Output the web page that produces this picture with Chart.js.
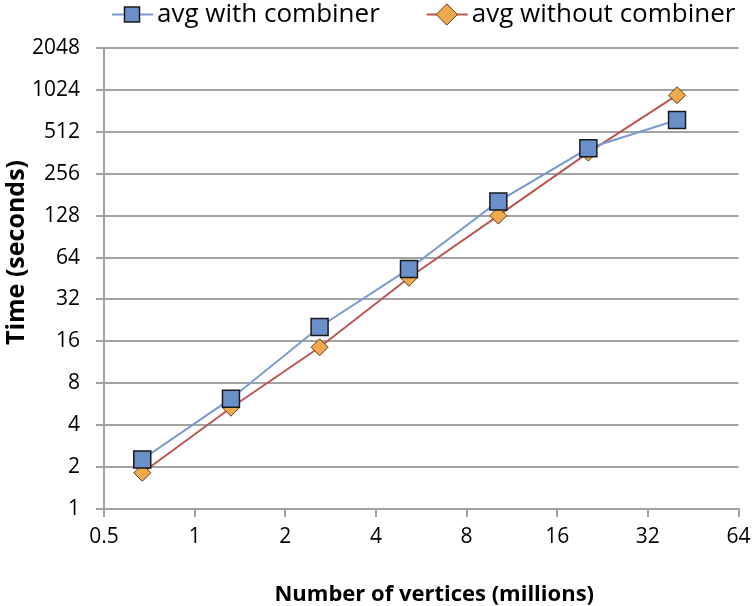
<!DOCTYPE html>
<html>
<head>
<meta charset="utf-8">
<script src="https://cdn.jsdelivr.net/npm/chart.js@4.4.1/dist/chart.umd.min.js"></script>
<style>
  html, body { margin: 0; padding: 0; background: #fff; }
  #wrap { width: 752px; height: 606px; }
</style>
</head>
<body>
<div id="wrap"><canvas id="chart" width="752" height="606"></canvas></div>
<script>
// vertices (millions) and times (seconds)
const vertices = [0.67, 1.32, 2.6, 5.15, 10.2, 20.3, 40];
const withCombiner = [2.27, 6.2, 20.3, 53, 162, 390, 622];
const withoutCombiner = [1.82, 5.34, 14.5, 45.8, 128, 363, 938];
const xTicks = [0.5, 1, 2, 4, 8, 16, 32, 64];
const yTicks = [1, 2, 4, 8, 16, 32, 64, 128, 256, 512, 1024, 2048];

const font = '"Open Sans", sans-serif';
const gridGrey = '#a3a3a3';

function toPoints(ys) {
  return vertices.map((v, i) => ({ x: v, y: ys[i] }));
}

// shift an axis title a little (the original titles are not centred on the plot)
function nudgeTitle(scale, dx, dy) {
  if (scale._nudged) return;
  const drawTitle = scale.drawTitle;
  scale.drawTitle = function () {
    this.ctx.save();
    this.ctx.translate(dx, dy);
    drawTitle.call(this);
    this.ctx.restore();
  };
  scale._nudged = true;
}

// legend placement like the original + a line through each marker
const tweaks = {
  id: 'tweaks',
  beforeInit(chart) {
    const legend = chart.legend;
    const fit = legend.fit;
    legend.fit = function () {
      this.maxWidth = 1200; // keep both items on one row
      fit.call(this);
      this.height = 101.5;
    };
  },
  afterLayout(chart) {
    chart.legend.left = 65;
    chart.legend.right = 1200;
    nudgeTitle(chart.scales.y, 0, -26);
    nudgeTitle(chart.scales.x, 13, 0);
  },
  afterDraw(chart) {
    const legend = chart.legend;
    if (!legend || !legend.legendHitBoxes) return;
    const ctx = chart.ctx;
    legend.legendHitBoxes.forEach((box, i) => {
      const ds = chart.data.datasets[i];
      const cy = box.top + 13;
      const cx = box.left + 12;
      ctx.save();
      ctx.globalCompositeOperation = 'destination-over';
      ctx.strokeStyle = ds.borderColor;
      ctx.lineWidth = 2;
      ctx.beginPath();
      ctx.moveTo(cx - 20, cy);
      ctx.lineTo(cx + 21, cy);
      ctx.stroke();
      ctx.restore();
    });
  }
};

new Chart(document.getElementById('chart'), {
  type: 'line',
  data: {
    datasets: [
      {
        label: 'avg with combiner',
        data: toPoints(withCombiner),
        borderColor: '#7b9bd0',
        borderWidth: 2,
        pointStyle: 'rect',
        pointRadius: 12,
        pointBackgroundColor: '#6b8fc9',
        pointBorderColor: '#1a1a1a',
        pointBorderWidth: 1.5,
        tension: 0
      },
      {
        label: 'avg without combiner',
        data: toPoints(withoutCombiner),
        borderColor: '#bb5652',
        borderWidth: 2,
        pointStyle: 'rectRot',
        pointRadius: 8.5,
        pointBackgroundColor: '#f0a94c',
        pointBorderColor: '#5a3a1a',
        pointBorderWidth: 1,
        tension: 0
      }
    ]
  },
  options: {
    responsive: false,
    animation: false,
    layout: { padding: { left: 0, right: 0, top: -53.5, bottom: 0 } },
    plugins: {
      legend: {
        position: 'top',
        align: 'start',
        labels: {
          usePointStyle: true,
          color: '#000',
          font: { family: font, size: 26 },
          padding: 55,
          boxWidth: 24,
          boxHeight: 15
        }
      },
      tooltip: { enabled: false }
    },
    scales: {
      x: {
        type: 'logarithmic',
        min: 0.5,
        max: 64,
        afterBuildTicks: (axis) => { axis.ticks = xTicks.map(v => ({ value: v })); },
        afterFit: (axis) => {
          axis.height = 97;
          axis.paddingRight = 12;
          axis.paddingLeft = 0;
        },
        ticks: {
          color: '#000',
          font: { family: font, size: 21 },
          padding: 7,
          maxRotation: 0,
          callback: (v) => String(v)
        },
        grid: { drawOnChartArea: false, color: gridGrey, lineWidth: 2, tickLength: 8 },
        border: { color: gridGrey, width: 2 },
        title: {
          display: true,
          text: 'Number of vertices (millions)',
          color: '#000',
          font: { family: font, size: 22, weight: 'bold' },
          padding: { top: 0, bottom: -2 }
        }
      },
      y: {
        type: 'logarithmic',
        min: 1,
        max: 2048,
        afterBuildTicks: (axis) => { axis.ticks = yTicks.map(v => ({ value: v })); },
        afterFit: (axis) => { axis.width = 104; },
        ticks: {
          color: '#000',
          font: { family: font, size: 21 },
          padding: 16,
          callback: (v) => String(v)
        },
        grid: { color: gridGrey, lineWidth: 2, tickLength: 8 },
        border: { color: gridGrey, width: 2 },
        title: {
          display: true,
          text: 'Time (seconds)',
          color: '#000',
          font: { family: font, size: 25, weight: 'bold' },
          padding: { top: 2, bottom: 0 }
        }
      }
    }
  },
  plugins: [tweaks]
});
</script>
</body>
</html>
